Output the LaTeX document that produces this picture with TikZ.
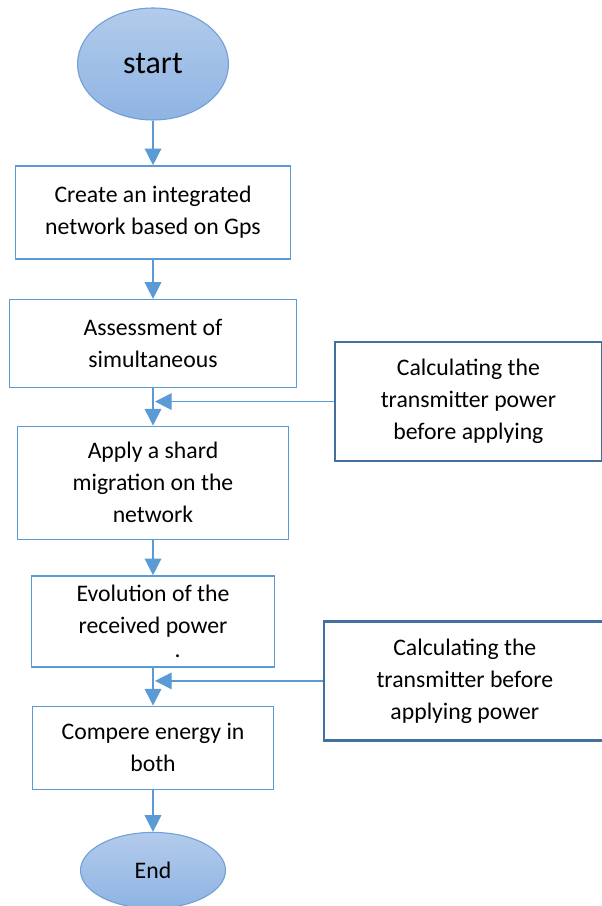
\documentclass[tikz,border=0pt]{standalone}
\usepackage{fontspec}
\setmainfont{Carlito}
\usepackage{xcolor}
\usepackage{tikz}
\usetikzlibrary{arrows.meta,positioning,shapes.geometric}
\definecolor{flowline}{HTML}{5B9BD5}
\definecolor{sideline}{HTML}{41719C}
\definecolor{ovaltop}{HTML}{B3CBEB}
\definecolor{ovalbottom}{HTML}{8EB4E3}
\definecolor{ovaldraw}{HTML}{6E9FD6}
\tikzset{
  terminal/.style={ellipse, draw=ovaldraw, line width=0.8pt, top color=ovaltop, bottom color=ovalbottom, align=center, inner sep=0pt},
  stepbox/.style={draw=flowline, line width=1pt, fill=white, align=center, inner sep=4pt},
  sidebox/.style={draw=sideline, line width=1.8pt, fill=white, align=center, inner sep=4pt},
  flowarrow/.style={-{Triangle[length=12.5pt, width=12.5pt]}, line width=1pt, draw=flowline}
}

\begin{document}
\begin{tikzpicture}[font=\fontsize{17.8pt}{24pt}\selectfont]
  \useasboundingbox (0,0) rectangle (451.5pt,-679.5pt);
  \node[terminal, minimum width=113.25pt, minimum height=84pt, font=\fontsize{24pt}{28pt}\selectfont] (start) at (114.75pt,-48pt) {start};
  \node[stepbox, below=33.5pt of start, minimum width=206.25pt, minimum height=69.75pt] (create) {Create an integrated\\network based on Gps};
  \node[stepbox, below=29.5pt of create, minimum width=215.25pt, minimum height=66pt] (assess) {Assessment of\\simultaneous};
  \node[stepbox, below=28pt of assess, minimum width=203.25pt, minimum height=84.75pt] (migrate) {Apply a shard\\migration on the\\network};
  \node[stepbox, below=26.5pt of migrate, minimum width=182.25pt, minimum height=68.25pt] (evol) {Evolution of the\\received power\\[-6pt]\hspace*{37pt}.};
  \node[stepbox, below=28.5pt of evol, minimum width=180.75pt, minimum height=62.25pt] (compare) {Compere energy in\\both};
  \node[terminal, below=31.5pt of compare, minimum width=108.75pt, minimum height=57pt] (finish) {End};

  \node[sidebox, below right=31.5pt and 27.4pt of assess.north east, anchor=north west, minimum width=200.25pt, minimum height=89.25pt] (txbefore) {Calculating the\\transmitter power\\before applying};
  \node[sidebox, below right=33.75pt and 35.6pt of evol.north east, anchor=north west, minimum width=211.5pt, minimum height=89.25pt] (txpower) {Calculating the\\transmitter before\\applying power};

  \draw[flowarrow] (start) -- (create);
  \draw[flowarrow] (create) -- (assess);
  \draw[flowarrow] (assess) -- (migrate);
  \draw[flowarrow] (migrate) -- (evol);
  \draw[flowarrow] (evol) -- (compare);
  \draw[flowarrow] (compare) -- (finish);
  \draw[flowarrow] (txbefore.west) -- ([xshift=1.5pt]txbefore.west -| assess.south);
  \draw[flowarrow] (txpower.west) -- ([xshift=1.5pt]txpower.west -| evol.south);
\end{tikzpicture}
\end{document}
